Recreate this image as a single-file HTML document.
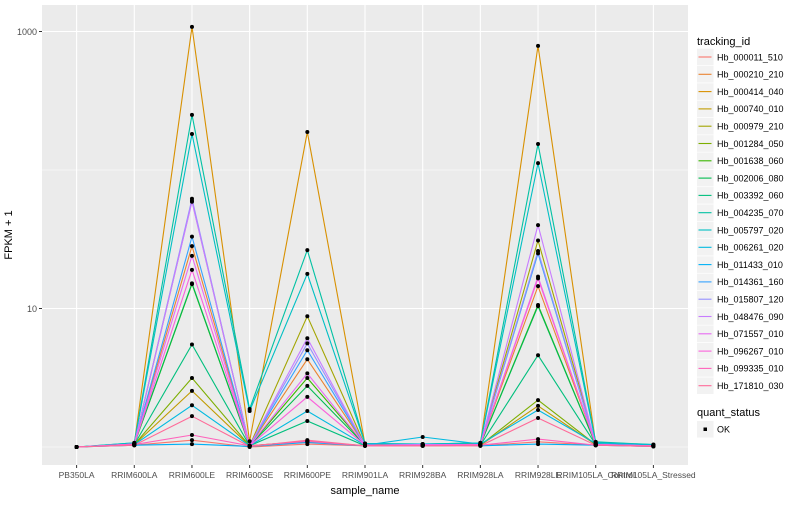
<!DOCTYPE html>
<html><head><meta charset="utf-8"><style>
body{margin:0;background:#fff;font-family:"Liberation Sans",sans-serif}
svg text{font-family:"Liberation Sans",sans-serif}
</style></head><body>
<svg id="c" width="800" height="500" xmlns="http://www.w3.org/2000/svg">
<rect x="0" y="0" width="800" height="500" fill="#fff"/>
<rect x="42" y="5" width="646" height="460" fill="#ebebeb"/>
<g id="grid"></g>
<g id="series"></g>
<g id="pts"></g>
<g id="axes"></g>
<text x="12" y="235" transform="rotate(-90 12 235)" text-anchor="middle" font-size="11" fill="#000">FPKM + 1</text>
<text x="365" y="494" text-anchor="middle" font-size="11" fill="#000">sample_name</text>
<g id="legend"></g>
</svg>
<script>
const categories=["PB350LA","RRIM600LA","RRIM600LE","RRIM600SE","RRIM600PE","RRIM901LA","RRIM928BA","RRIM928LA","RRIM928LE","RRIM105LA_Control","RRIM105LA_Stressed"];
const seriesNames=["Hb_000011_510","Hb_000210_210","Hb_000414_040","Hb_000740_010","Hb_000979_210","Hb_001284_050","Hb_001638_060","Hb_002006_080","Hb_003392_060","Hb_004235_070","Hb_005797_020","Hb_006261_020","Hb_011433_010","Hb_014361_160","Hb_015807_120","Hb_048476_090","Hb_071557_010","Hb_096267_010","Hb_099335_010","Hb_171810_030"];
const s000011=[1.0,1.03,1.12,1.0,1.05,1.02,1.03,1.02,1.09,1.03,1.01];
const s000210=[1.0,1.05,28.2,1.02,4.3,1.03,1.05,1.05,14.5,1.05,1.02];
const s000414=[1.0,1.06,1080,1.1,188,1.05,1.03,1.06,788,1.06,1.02];
const s000740=[1.0,1.04,2.54,1.02,1.1,1.02,1.02,1.03,1.98,1.04,1.02];
const s000979=[1.0,1.05,60,1.02,8.8,1.03,1.04,1.04,31,1.05,1.02];
const s001284=[1.0,1.04,3.15,1.02,1.1,1.02,1.02,1.03,2.18,1.04,1.02];
const s001638=[1.0,1.05,15,1.02,3.15,1.03,1.03,1.04,10.6,1.04,1.02];
const s002006=[1.0,1.05,15.2,1.02,2.76,1.03,1.03,1.04,10.4,1.04,1.02];
const s003392=[1.0,1.04,5.5,1.02,1.54,1.02,1.02,1.03,4.6,1.04,1.03];
const s004235=[1.0,1.07,250,1.88,26.4,1.06,1.05,1.07,154,1.09,1.04];
const s005797=[1.0,1.07,182,1.82,17.8,1.06,1.05,1.07,112,1.08,1.04];
const s006261=[1.0,1.04,2.0,1.02,1.82,1.03,1.18,1.05,1.85,1.06,1.03];
const s011433=[1.0,1.03,1.05,1.01,1.08,1.02,1.05,1.02,1.05,1.03,1.01];
const s014361=[1.0,1.05,33,1.02,5.0,1.03,1.04,1.04,25,1.04,1.02];
const s015807=[1.0,1.05,62,1.02,5.6,1.03,1.04,1.04,26,1.04,1.02];
const s048476=[1.0,1.05,59,1.02,6.1,1.03,1.04,1.04,40,1.04,1.02];
const s071557=[1.0,1.05,24,1.02,3.4,1.03,1.03,1.04,17,1.04,1.02];
const s096267=[1.0,1.05,19,1.02,2.3,1.03,1.03,1.04,16.5,1.04,1.02];
const s099335=[1.0,1.04,1.22,1.02,1.1,1.02,1.02,1.03,1.14,1.03,1.02];
const s171810=[1.0,1.03,1.67,1.01,1.12,1.02,1.02,1.02,1.62,1.03,1.01];
const allSeries=[s000011,s000210,s000414,s000740,s000979,s001284,s001638,s002006,s003392,s004235,s005797,s006261,s011433,s014361,s015807,s048476,s071557,s096267,s099335,s171810];
const yTickVals=[10,1000];
const yTickLabels=["10","1000"];
const yMinorVals=[1,100];

const NS="http://www.w3.org/2000/svg";
const px0=42,pw=646,py0=5,ph=460;
function xScale(i){return px0+pw*(i+0.6)/(categories.length+0.2);}
function yScale(v){return 447-138.5*Math.log10(v);}
function hcl(h){const L=65,C=100,hr=h*Math.PI/180;const u=C*Math.cos(hr),v=C*Math.sin(hr);
const Xn=95.047,Yn=100,Zn=108.883;const Y=Yn*Math.pow((L+16)/116,3);
const un=4*Xn/(Xn+15*Yn+3*Zn),vn=9*Yn/(Xn+15*Yn+3*Zn);const up=u/(13*L)+un,vp=v/(13*L)+vn;
const X=9*Y*up/(4*vp),Z=Y*(12-3*up-20*vp)/(4*vp);const x=X/100,y=Y/100,z=Z/100;
let r=3.2406*x-1.5372*y-0.4986*z,g=-0.9689*x+1.8758*y+0.0415*z,b=0.0557*x-0.2040*y+1.0570*z;
const f=c=>{c=c<=0.0031308?12.92*c:1.055*Math.pow(c,1/2.4)-0.055;return Math.round(Math.max(0,Math.min(1,c))*255);};
return `rgb(${f(r)},${f(g)},${f(b)})`;}
const colors=seriesNames.map((n,i)=>hcl(15+360*i/20));
function mk(tag,attrs,parent){const e=document.createElementNS(NS,tag);for(const k in attrs)e.setAttribute(k,attrs[k]);parent.appendChild(e);return e;}
const grid=document.getElementById('grid');
yMinorVals.forEach(v=>{const e=mk('line',{x1:px0,x2:px0+pw,y1:yScale(v),y2:yScale(v),stroke:'#fff','stroke-width':0.6},grid);

});
yTickVals.forEach(v=>{const e=mk('line',{x1:px0,x2:px0+pw,y1:yScale(v),y2:yScale(v),stroke:'#fff','stroke-width':1.1},grid);

});
categories.forEach((c,i)=>{const e=mk('line',{x1:xScale(i),x2:xScale(i),y1:py0,y2:py0+ph,stroke:'#fff','stroke-width':1.1},grid);

});
const sg=document.getElementById('series');
allSeries.forEach((d,si)=>{const pts=d.map((v,i)=>xScale(i).toFixed(1)+','+yScale(v).toFixed(1)).join(' ');
const e=mk('polyline',{points:pts,fill:'none',stroke:colors[si],'stroke-width':1.1},sg);

});
const pg=document.getElementById('pts');
allSeries.forEach((d,si)=>d.forEach((v,i)=>{const e=mk('circle',{cx:xScale(i),cy:yScale(v),r:2,fill:'#000'},pg);

}));
const ax=document.getElementById('axes');
yTickVals.forEach((v,i)=>{const t=mk('line',{x1:39,x2:42,y1:yScale(v),y2:yScale(v),stroke:'#333'},ax);


const l=mk('text',{x:37,y:yScale(v)+3.5,'text-anchor':'end','font-size':9,fill:'#4d4d4d'},ax);l.textContent=yTickLabels[i];

});
categories.forEach((c,i)=>{const t=mk('line',{x1:xScale(i),x2:xScale(i),y1:465,y2:468,stroke:'#333'},ax);


const l=mk('text',{x:xScale(i),y:478,'text-anchor':'middle','font-size':8.5,fill:'#4d4d4d'},ax);l.textContent=c;

});
const lg=document.getElementById('legend');
const lt=mk('text',{x:697,y:45,'font-size':11,fill:'#000'},lg);lt.textContent='tracking_id';


seriesNames.forEach((n,i)=>{const yc=57+i*17.3;
const g=mk('g',{},lg);


mk('rect',{x:697,y:yc-8.3,width:16.6,height:16.6,fill:'#f2f2f2'},g);
mk('line',{x1:698.5,x2:711.5,y1:yc,y2:yc,stroke:colors[i],'stroke-width':1.1},g);
const t=mk('text',{x:717,y:yc+3.3,'font-size':9,fill:'#000'},g);t.textContent=n;});
const qt=mk('text',{x:697,y:416,'font-size':11,fill:'#000'},lg);qt.textContent='quant_status';


const qg=mk('g',{},lg);


mk('rect',{x:697,y:421,width:16.6,height:16.6,fill:'#f2f2f2'},qg);
mk('rect',{x:703.5,y:427.5,width:3.5,height:3.5,fill:'#000'},qg);
const ok=mk('text',{x:717,y:432.5,'font-size':9,fill:'#000'},qg);ok.textContent='OK';
</script>
</body></html>
